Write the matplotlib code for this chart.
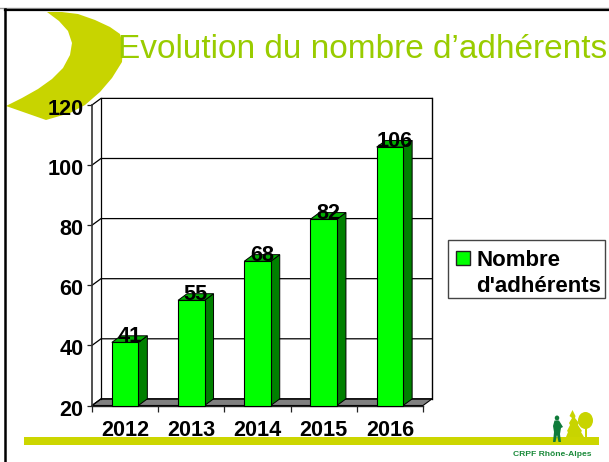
import matplotlib
matplotlib.use("Agg")
import matplotlib.pyplot as plt
from matplotlib.patches import Polygon, Rectangle, Ellipse
from matplotlib.transforms import ScaledTranslation

plt.rcParams['font.family'] = ['Liberation Sans', 'DejaVu Sans']

years = ['2012', '2013', '2014', '2015', '2016']
adherents = [41, 55, 68, 82, 106]
y_ticks = [20, 40, 60, 80, 100, 120]
title = "Evolution du nombre d\u2019adh\u00e9rents"
legend_lines = ["Nombre", "d'adh\u00e9rents"]
footer = "CRPF Rh\u00f4ne-Alpes"

BAR_GREEN = '#00ff00'
SIDE_GREEN = '#008000'
TOP_GREEN = '#00b000'
LIME = '#c8d400'
W, H = 609, 462

fig = plt.figure(figsize=(W / 100, H / 100), dpi=100)

# slide background, in pixel coordinates
bg = fig.add_axes([0, 0, 1, 1], zorder=0)
bg.set_xlim(0, W)
bg.set_ylim(H, 0)
bg.axis('off')
bg.plot([0, W], [8, 8], color='#999999', lw=1.0)
bg.plot([5, W], [9.5, 9.5], color='black', lw=1.6)
bg.plot([5, 5], [9, H], color='black', lw=1.8)

crescent = [(47, 12), (62, 12), (78, 14), (95, 20), (110, 27), (120, 34), (123, 45), (122, 62),
            (112, 78), (100, 92), (85, 105), (70, 113), (46, 120), (26, 113), (6, 106),
            (22, 98), (38, 89), (52, 79), (63, 68), (70, 55), (72, 43), (68, 31), (59, 21)]
bg.add_patch(Polygon(crescent, closed=True, fc=LIME, ec='none'))
bg.text(118, 58.5, title, fontsize=24.05, color='#99cc00', va='baseline', ha='left')

# bottom band and logo
bg.add_patch(Rectangle((24, 437), 575, 8, fc='#ccd600', ec='none'))
pine = [(572.5, 410), (575.5, 416), (575, 418), (579, 423), (578, 425), (582, 431), (581, 432),
        (584, 437), (566, 437), (568, 432), (567, 431), (570, 425), (569, 423), (572, 418), (569.5, 416)]
bg.add_patch(Polygon(pine, closed=True, fc=LIME, ec='none'))
bg.add_patch(Ellipse((585.5, 420.5), 15, 17, fc=LIME, ec='none'))
bg.add_patch(Rectangle((584.5, 426), 2.2, 11, fc=LIME, ec='none'))
bg.add_patch(Ellipse((557, 418), 4.5, 5, fc='#0f7b3a', ec='none'))
walker = [(554.5, 420.5), (559, 420.5), (563, 427), (561, 428), (560, 434), (561, 442), (558.5, 442),
          (557, 435), (555.5, 442), (553, 442), (554, 432), (553, 426)]
bg.add_patch(Polygon(walker, closed=True, fc='#0f7b3a', ec='none'))
bg.text(513, 456, footer, fontsize=6.1, fontweight='bold', color='#1a8a3a', va='baseline', ha='left')

# legend box
bg.add_patch(Rectangle((448, 239.5), 157, 58.5, fc='white', ec='#444444', lw=1.0))
bg.add_patch(Rectangle((455.5, 251), 14.5, 13.5, fc=BAR_GREEN, ec='#222222', lw=1.0))
bg.text(476.5, 266, legend_lines[0], fontsize=16, fontweight='bold', va='baseline', ha='left')
bg.text(476.5, 292, legend_lines[1], fontsize=16, fontweight='bold', va='baseline', ha='left')

# chart: the axes box is the front plane of the 3D plot
ax = fig.add_axes([92 / W, 1 - 405.5 / H, 331 / W, 300.5 / H], zorder=1)
ax.patch.set_visible(False)
ax.set_xlim(-0.5, 4.5)
ax.set_ylim(20, 120)

positions = list(range(len(years)))
dx = 9.0 / 66.2   # depth of the 3D plot in data units
dy = 6.6 / 3.005
x0, x1 = ax.get_xlim()

ax.add_patch(Polygon([(x0, 20), (x0 + dx, 20 + dy), (x1 + dx, 20 + dy), (x1, 20)],
                     closed=True, fc='#808080', ec='black', lw=0.8, clip_on=False, zorder=1))
for v in y_ticks:
    ax.plot([x0, x0 + dx, x1 + dx], [v, v + dy, v + dy], color='black', lw=0.9,
            clip_on=False, zorder=1, solid_joinstyle='miter')
ax.plot([x0 + dx, x0 + dx], [20 + dy, 120 + dy], color='black', lw=0.9, clip_on=False, zorder=1)
ax.plot([x1 + dx, x1 + dx], [20 + dy, 120 + dy], color='black', lw=1.0, clip_on=False, zorder=1)

bar_w = 0.4
for p, v in zip(positions, adherents):
    right = p + bar_w / 2
    left = p - bar_w / 2
    ax.add_patch(Polygon([(right, 20), (right + dx, 20 + dy), (right + dx, v + dy), (right, v)],
                         closed=True, fc=SIDE_GREEN, ec='black', lw=0.7, clip_on=False, zorder=3))
    ax.add_patch(Polygon([(left, v), (left + dx, v + dy), (right + dx, v + dy), (right, v)],
                         closed=True, fc=TOP_GREEN, ec='black', lw=0.7, clip_on=False, zorder=3))
ax.bar(positions, [v - 20 for v in adherents], bar_w, bottom=20, color=BAR_GREEN,
       edgecolor='black', linewidth=0.8, zorder=4, clip_on=False)

for p, v in zip(positions, adherents):
    ax.text(p + dx / 2, v, str(v), fontsize=15.6, fontweight='bold', ha='center',
            va='baseline', zorder=5, clip_on=False)

for s in ['top', 'right']:
    ax.spines[s].set_visible(False)
ax.spines['left'].set_color('#333333')
ax.spines['left'].set_linewidth(1.2)
ax.spines['bottom'].set_color('#222222')
ax.spines['bottom'].set_linewidth(1.0)

ax.set_yticks(y_ticks)
ax.set_xticks([x0 + i for i in range(len(years) + 1)])
ax.set_xticklabels([])
ax.set_xticks(positions, labels=years, minor=True)
ax.tick_params(axis='x', which='major', length=4.2, width=0.9, color='#222222')
ax.tick_params(axis='x', which='minor', length=0, pad=10.5, labelsize=15.6)
ax.tick_params(axis='y', length=3.6, width=0.9, color='#222222', pad=2.4, labelsize=15.6)
shift = ScaledTranslation(0, -2 / 100, fig.dpi_scale_trans)
for lab in ax.get_yticklabels():
    lab.set_transform(lab.get_transform() + shift)
for lab in ax.get_xticklabels(minor=True) + ax.get_yticklabels():
    lab.set_fontweight('bold')

fig.savefig('out.png', dpi=100)
